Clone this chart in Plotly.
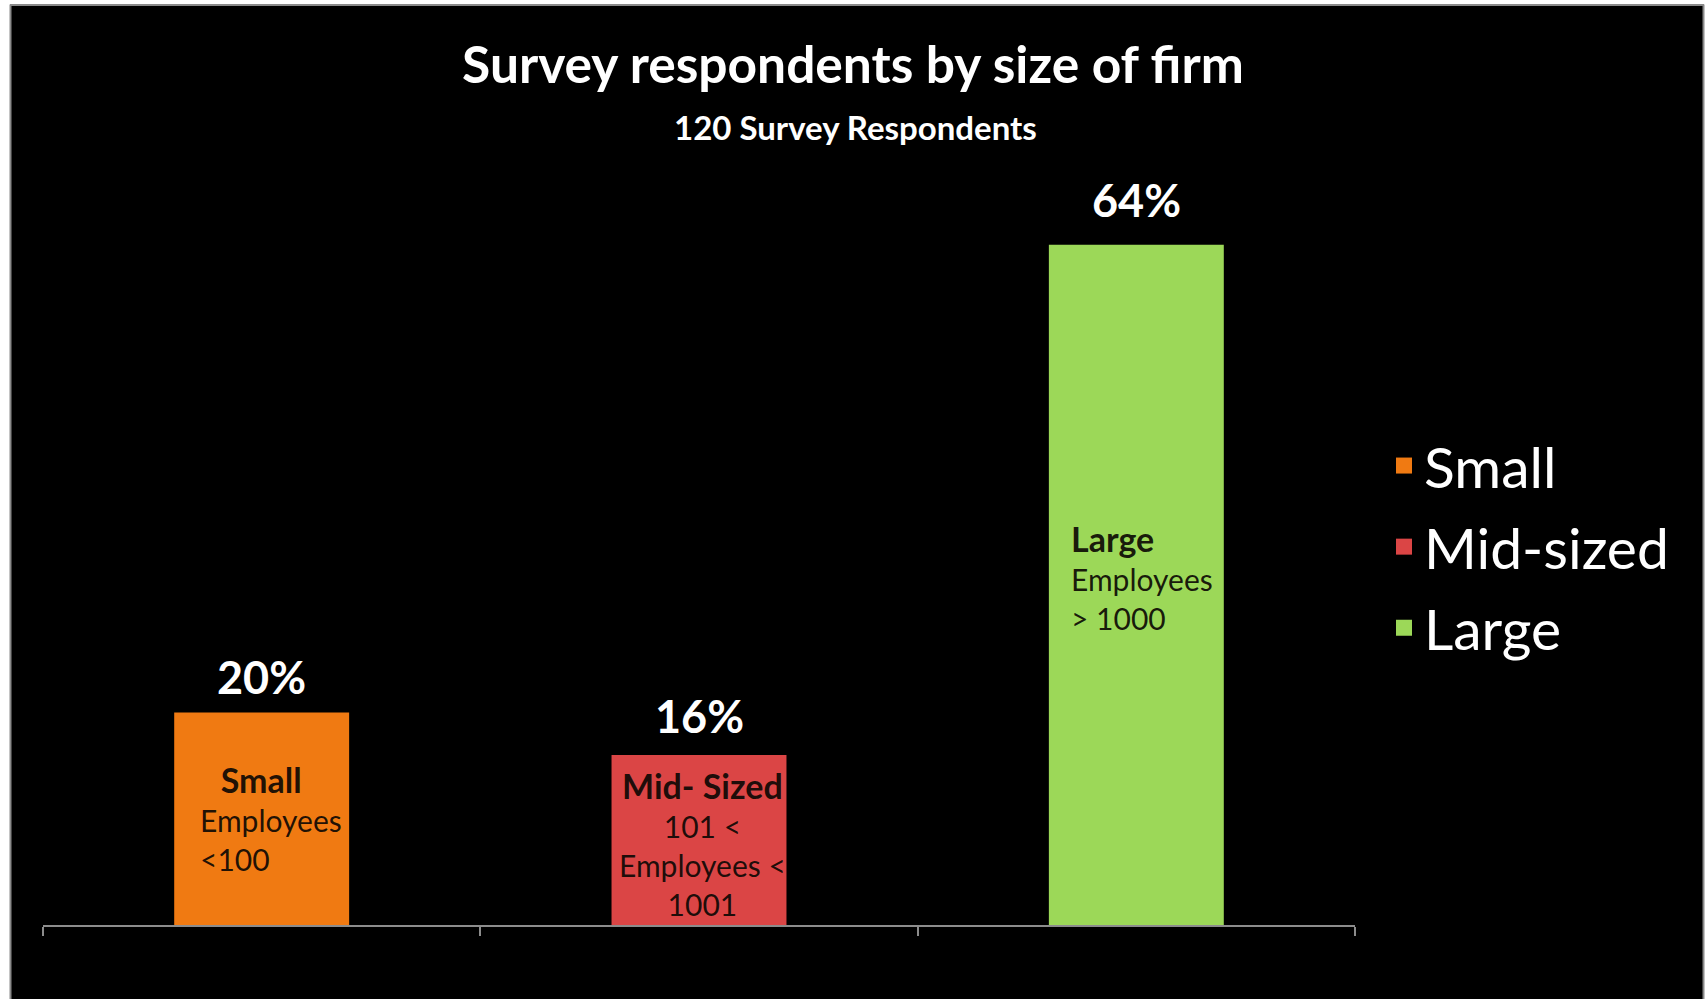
import plotly.graph_objects as go

# ---- data ----
categories = ["Small", "Mid-sized", "Large"]
shares = [20, 16, 64]
value_labels = ["20%", "16%", "64%"]
bar_colors = ["#F07A12", "#DB4545", "#9CD858"]
inside_titles = ["&nbsp;&nbsp;&#8201;Small", "Mid- Sized", "Large"]
inside_bodies = [
    "Employees<br>&lt;100",
    "101 &lt;<br>Employees &lt;<br>1001",
    "Employees<br>&gt; 1000",
]
title_text = "Survey respondents by size of firm"
subtitle_text = "120 Survey Respondents"

W, H = 1706, 999
L, R, T, B = 43, 351, 181, 74
PW, PH = W - L - R, H - T - B


def px_x(p):
    return (p - L) / PW


def px_y(p):
    return (H - B - p) / PH


FONT = "Lato"
fig = go.Figure()

for cat, val, col in zip(categories, shares, bar_colors):
    fig.add_trace(go.Bar(
        x=[cat], y=[val], name=cat, marker=dict(color=col, line=dict(width=0)),
        showlegend=False, hoverinfo="skip",
    ))
    fig.add_trace(go.Scatter(
        x=[None], y=[None], mode="markers", name=cat, legendgroup=cat,
        marker=dict(symbol="square", size=16, color=col), showlegend=True,
    ))

annotations = []
# value labels above bars
label_shifts = [35, 39, 45]
for cat, val, lab, ys in zip(categories, shares, value_labels, label_shifts):
    annotations.append(dict(
        x=cat, y=val, xref="x", yref="y", text=f"<b>{lab}</b>", showarrow=False,
        yanchor="middle", yshift=ys, font=dict(family=FONT, size=45, color="white"),
    ))

# text inside bars
inside_cfg = [
    dict(align="left", xanchor="left", xshift=-64, yshift=-45),
    dict(align="center", xanchor="center", xshift=3, yshift=-8),
    dict(align="left", xanchor="left", xshift=-67, yshift=-271),
]
for cat, val, ttl, body, cfg in zip(categories, shares, inside_titles, inside_bodies, inside_cfg):
    annotations.append(dict(
        x=cat, y=val, xref="x", yref="y",
        text=f"<span style='font-size:34px'><b>{ttl}</b></span><br>{body}",
        showarrow=False, yanchor="top",
        font=dict(family=FONT, size=30, color="rgba(12,8,4,0.92)"),
        **cfg,
    ))

# subtitle
annotations.append(dict(
    x=px_x(855), y=px_y(127), xref="paper", yref="paper", text=f"<b>{subtitle_text}</b>",
    showarrow=False, xanchor="center", yanchor="middle",
    font=dict(family=FONT, size=33, color="white"),
))

shapes = [
    # white frame strips + gray edge lines
    dict(type="rect", xref="paper", yref="paper", x0=px_x(0), x1=px_x(10), y0=px_y(H), y1=px_y(0),
         fillcolor="white", line=dict(width=0), layer="below"),
    dict(type="rect", xref="paper", yref="paper", x0=px_x(0), x1=px_x(W), y0=px_y(4), y1=px_y(0),
         fillcolor="white", line=dict(width=0), layer="below"),
    dict(type="rect", xref="paper", yref="paper", x0=px_x(1704), x1=px_x(W), y0=px_y(H), y1=px_y(0),
         fillcolor="white", line=dict(width=0), layer="below"),
    dict(type="line", xref="paper", yref="paper", x0=px_x(10.5), x1=px_x(10.5), y0=px_y(H), y1=px_y(4.5),
         line=dict(color="#8a8a8a", width=2), layer="below"),
    dict(type="line", xref="paper", yref="paper", x0=px_x(10), x1=px_x(1704), y0=px_y(5), y1=px_y(5),
         line=dict(color="#8a8a8a", width=2), layer="below"),
    dict(type="line", xref="paper", yref="paper", x0=px_x(1703.5), x1=px_x(1703.5), y0=px_y(H), y1=px_y(4.5),
         line=dict(color="#8a8a8a", width=2), layer="below"),
]

fig.update_layout(
    width=W, height=H,
    margin=dict(l=L, r=R, t=T, b=B, autoexpand=False),
    paper_bgcolor="black", plot_bgcolor="black",
    barmode="overlay", bargap=0.6,
    title=dict(text=f"<b>{title_text}</b>", x=0.5, xref="container", xanchor="center",
               y=1 - 65 / H, yref="container", yanchor="middle",
               font=dict(family=FONT, size=51.5, color="white")),
    legend=dict(x=px_x(1384), xanchor="left", y=px_y(547), yanchor="middle",
                font=dict(family=FONT, size=57, color="white"), bgcolor="rgba(0,0,0,0)",
                itemsizing="trace", tracegroupgap=4),
    annotations=annotations,
    shapes=shapes,
    xaxis=dict(type="category", showline=True, linecolor="#8c8c8c", linewidth=2,
               ticks="outside", tickson="boundaries", ticklen=9, tickwidth=2, tickcolor="#8c8c8c",
               showticklabels=False, showgrid=False, zeroline=False, fixedrange=True),
    yaxis=dict(range=[0, 70], visible=False, showgrid=False, zeroline=False, fixedrange=True),
    showlegend=True,
)

fig.write_html("out.html", config=dict(displayModeBar=False))
